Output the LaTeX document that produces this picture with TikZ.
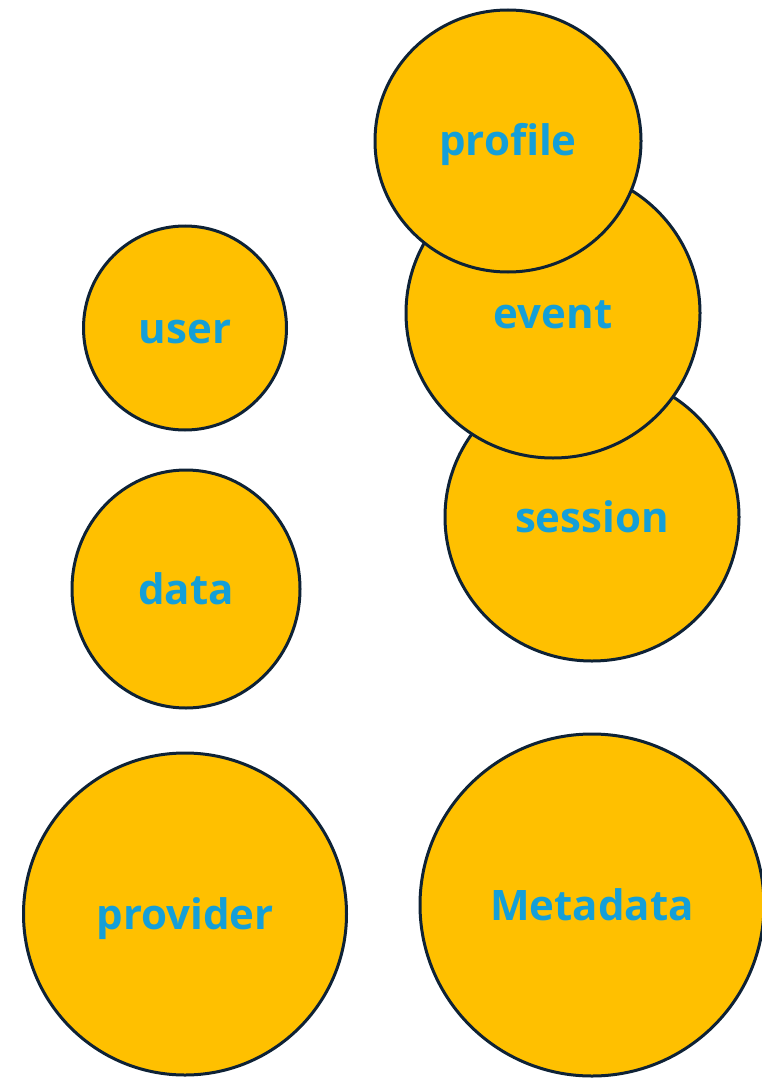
\documentclass[tikz,border=0pt]{standalone}
\usepackage{fontspec}
\setmainfont{Open Sans}
\usetikzlibrary{shapes.geometric}
\definecolor{amber}{HTML}{FFC000}
\definecolor{navy}{HTML}{0E2236}
\definecolor{skyblue}{HTML}{149FD8}
\tikzset{
	entity/.style={ellipse, draw=navy, fill=amber, line width=3pt, inner sep=0pt,
		text=skyblue, font=\bfseries\fontsize{42}{42}\selectfont,
		text height=30pt, text depth=0pt},
}
\begin{document}
\begin{tikzpicture}[x=1pt, y=-1pt]
		\useasboundingbox (0,0) rectangle (761,1078);

		% right column, back to front
		\node[entity, minimum width=294pt, minimum height=288pt] (session) at (592,517) {session};
		\node[entity, minimum width=294pt, minimum height=290pt] (event) at (553,313) {event};
		\node[entity, minimum width=266pt, minimum height=262pt] (profile) at (508,141) {profile};

		\node[entity, minimum width=203pt, minimum height=204pt] (user) at (185,328) {user};
		\node[entity, minimum width=228pt, minimum height=238pt] (data) at (186,589) {data};
		\node[entity, minimum width=323pt, minimum height=322pt] (provider) at (185,914) {provider};
		\node[entity, minimum width=344pt, minimum height=342pt] (meta) at (592,905) {Metadata};
	\end{tikzpicture}
\end{document}
